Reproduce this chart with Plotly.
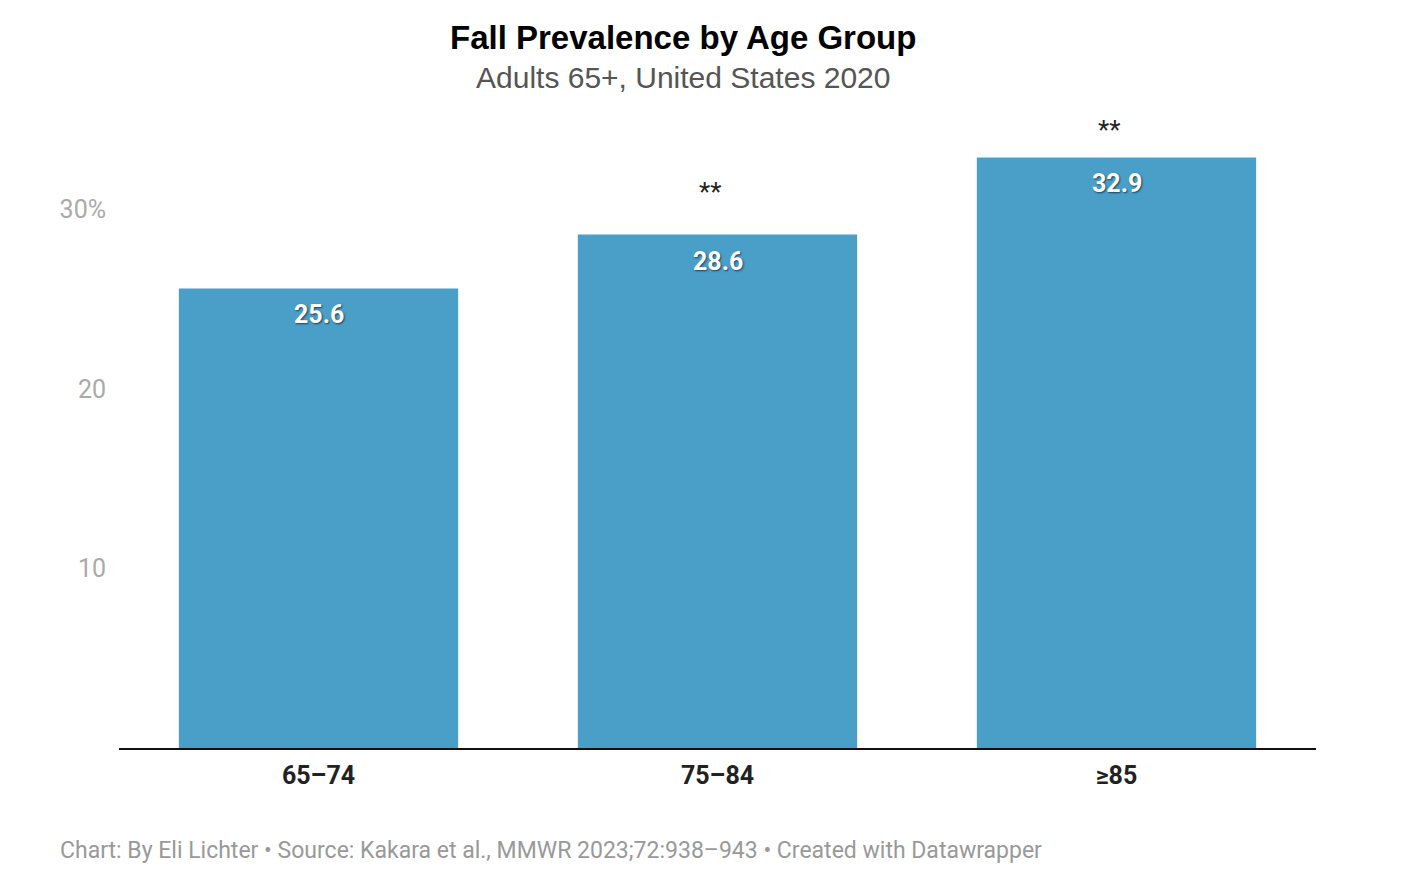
import plotly.graph_objects as go

# data
age_groups = ["65–74", "75–84", "≥85"]
prevalence = [25.6, 28.6, 32.9]
significance = ["", "**", "**"]
y_ticks = [10, 20, 30]
y_tick_labels = ["10", "20", "30%"]

BAR_COLOR = "#4a9fc9"

fig = go.Figure(
    go.Bar(
        x=age_groups,
        y=prevalence,
        marker=dict(color=BAR_COLOR, line=dict(width=0)),
        hoverinfo="x+y",
    )
)

# value labels inside the bar tops
for cat, val in zip(age_groups, prevalence):
    fig.add_annotation(
        x=cat, y=val, text=f"{val:.1f}", showarrow=False,
        yanchor="top", yshift=-10,
        font=dict(family="Roboto", size=25, color="white", weight="bold",
                  shadow="1px 1px 2px rgba(0,0,0,0.6)"),
    )

# significance markers above bars
star_shift = [0, 43, 27]
for cat, val, sig, dy in zip(age_groups, prevalence, significance, star_shift):
    if sig:
        fig.add_annotation(
            x=cat, y=val, text=sig, showarrow=False,
            yanchor="middle", yshift=dy, xshift=-8,
            font=dict(family="Roboto", size=26, color="#222"),
        )

# title, subtitle, footer
fig.add_annotation(
    xref="paper", yref="paper", x=0.471, y=1, yshift=73, yanchor="middle",
    text="<b>Fall Prevalence by Age Group</b>", showarrow=False,
    font=dict(family="Liberation Sans", size=33, color="#000"),
)
fig.add_annotation(
    xref="paper", yref="paper", x=0.471, y=1, yshift=33, yanchor="middle",
    text="Adults 65+, United States 2020", showarrow=False,
    font=dict(family="Liberation Sans", size=30, color="#555"),
)
fig.add_annotation(
    xref="paper", yref="paper", x=-0.051, y=0, yshift=-102, xanchor="left",
    yanchor="middle",
    text="Chart: By Eli Lichter • Source: Kakara et al., MMWR 2023;72:938–943 • Created with Datawrapper",
    showarrow=False,
    font=dict(family="Roboto", size=23, color="#999"),
)

fig.update_layout(
    width=1418, height=890,
    margin=dict(l=111, r=110, t=102, b=150),
    paper_bgcolor="white", plot_bgcolor="white",
    bargap=0.3,
    showlegend=False,
    xaxis=dict(
        showgrid=False, showline=True, linecolor="#111", linewidth=2,
        ticks="", tickfont=dict(family="Roboto", size=25, color="#222", weight="bold"),
        ticklabelstandoff=4,
    ),
    yaxis=dict(
        range=[0, 35.54], showgrid=False, zeroline=False, showline=False,
        tickvals=y_ticks, ticktext=y_tick_labels,
        tickfont=dict(family="Roboto", size=25, color="#aaa"),
        ticklabelstandoff=12,
    ),
)

fig.write_html("out.html")
